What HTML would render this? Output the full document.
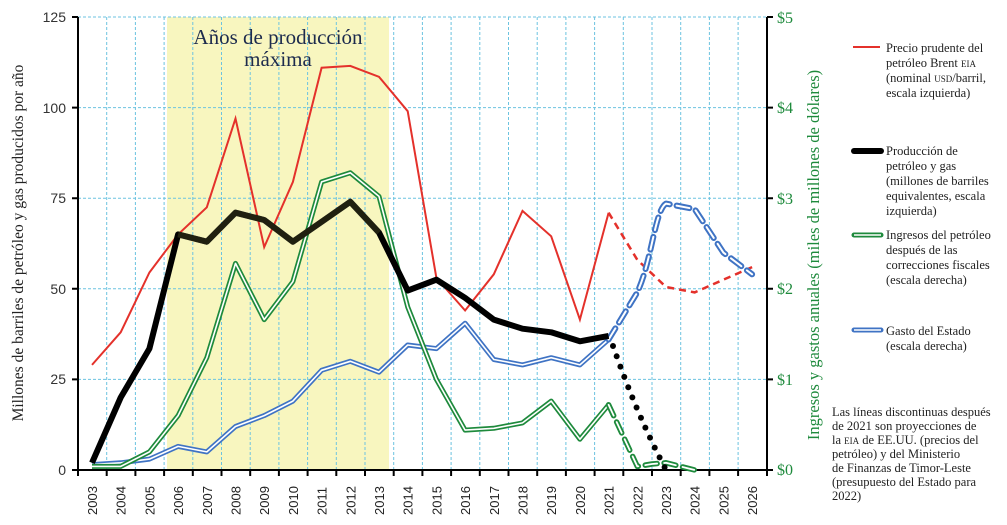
<!DOCTYPE html>
<html><head><meta charset="utf-8"><style>
body{margin:0;background:#fff;}
svg text{font-family:"Liberation Serif",serif;}
svg text.s{font-family:"Liberation Sans",sans-serif;}
</style></head><body>
<svg width="1007" height="520" viewBox="0 0 1007 520" xmlns="http://www.w3.org/2000/svg">
<rect x="167" y="17" width="222" height="453" fill="#f8f6bf"/>
<g stroke="#6cc3e0" stroke-width="1" stroke-dasharray="3,2" fill="none">
<path d="M78 17H767M78 107.6H767M78 198.2H767M78 288.8H767M78 379.4H767"/>
<path d="M106.7 17V470M135.4 17V470M164.1 17V470M192.8 17V470M221.5 17V470M250.2 17V470M278.9 17V470M307.6 17V470M336.3 17V470M365 17V470M393.7 17V470M422.4 17V470M451.1 17V470M479.8 17V470M508.5 17V470M537.2 17V470M565.9 17V470M594.6 17V470M623.3 17V470M652 17V470M680.7 17V470M709.4 17V470M738.1 17V470"/>
</g>
<text x="278" y="44" font-size="21" fill="#1d2b4d" text-anchor="middle">Años de producción</text>
<text x="278" y="66" font-size="21" fill="#1d2b4d" text-anchor="middle">máxima</text>
<g stroke="#000" stroke-width="2" fill="none">
<path d="M78 17V470H767V17"/>
<path d="M72 17H78M72 107.6H78M72 198.2H78M72 288.8H78M72 379.4H78M72 470H78"/>
<path d="M767 17H773M767 107.6H773M767 198.2H773M767 288.8H773M767 379.4H773M767 470H773"/>
<path d="M78 470v6M106.7 470v6M135.4 470v6M164.1 470v6M192.8 470v6M221.5 470v6M250.2 470v6M278.9 470v6M307.6 470v6M336.3 470v6M365 470v6M393.7 470v6M422.4 470v6M451.1 470v6M479.8 470v6M508.5 470v6M537.2 470v6M565.9 470v6M594.6 470v6M623.3 470v6M652 470v6M680.7 470v6M709.4 470v6M738.1 470v6M767 470v6"/>
</g>
<g font-size="14" fill="#333" text-anchor="end">
<text class="s" x="66" y="22">125</text><text class="s" x="66" y="113">100</text><text class="s" x="66" y="203">75</text><text class="s" x="66" y="294">50</text><text class="s" x="66" y="384">25</text><text class="s" x="66" y="475">0</text>
</g>
<g font-size="16" fill="#1e8a3c">
<text x="777" y="23">$5</text><text x="777" y="113">$4</text><text x="777" y="204">$3</text><text x="777" y="294">$2</text><text x="777" y="385">$1</text><text x="777" y="475">$0</text>
</g>
<text transform="translate(23,243) rotate(-90)" font-size="15.5" fill="#222" text-anchor="middle">Millones de barriles de petróleo y gas producidos por año</text>
<text transform="translate(819,255) rotate(-90)" font-size="16.5" fill="#1e8a3c" text-anchor="middle">Ingresos y gastos anuales (miles de millones de dólares)</text>
<g font-size="13" fill="#222">
<text class="s" transform="translate(97,515) rotate(-90)">2003</text>
<text class="s" transform="translate(125.7,515) rotate(-90)">2004</text>
<text class="s" transform="translate(154.4,515) rotate(-90)">2005</text>
<text class="s" transform="translate(183.1,515) rotate(-90)">2006</text>
<text class="s" transform="translate(211.8,515) rotate(-90)">2007</text>
<text class="s" transform="translate(240.5,515) rotate(-90)">2008</text>
<text class="s" transform="translate(269.2,515) rotate(-90)">2009</text>
<text class="s" transform="translate(297.9,515) rotate(-90)">2010</text>
<text class="s" transform="translate(326.6,515) rotate(-90)">2011</text>
<text class="s" transform="translate(355.3,515) rotate(-90)">2012</text>
<text class="s" transform="translate(384,515) rotate(-90)">2013</text>
<text class="s" transform="translate(412.7,515) rotate(-90)">2014</text>
<text class="s" transform="translate(441.4,515) rotate(-90)">2015</text>
<text class="s" transform="translate(470.1,515) rotate(-90)">2016</text>
<text class="s" transform="translate(498.8,515) rotate(-90)">2017</text>
<text class="s" transform="translate(527.5,515) rotate(-90)">2018</text>
<text class="s" transform="translate(556.2,515) rotate(-90)">2019</text>
<text class="s" transform="translate(584.9,515) rotate(-90)">2020</text>
<text class="s" transform="translate(613.6,515) rotate(-90)">2021</text>
<text class="s" transform="translate(642.3,515) rotate(-90)">2022</text>
<text class="s" transform="translate(671,515) rotate(-90)">2023</text>
<text class="s" transform="translate(699.7,515) rotate(-90)">2024</text>
<text class="s" transform="translate(728.4,515) rotate(-90)">2025</text>
<text class="s" transform="translate(757.1,515) rotate(-90)">2026</text>
</g>
<polyline fill="none" stroke="#e4312b" stroke-width="2" points="92,364.9 120.7,332.3 149.4,272.5 178.1,234.4 206.8,207.3 235.5,118.5 264.2,247.1 292.9,181.9 321.6,67.7 350.3,65.9 379,76.8 407.7,111.2 436.4,277.9 465.1,310.5 493.8,274.3 522.5,210.9 551.2,236.3 579.9,319.6 608.6,212.7"/>
<polyline fill="none" stroke="#e4312b" stroke-width="2.5" stroke-dasharray="7,5" points="608.6,212.7 637.3,259.8 666,287 694.7,292.4 723.4,279.7 752.1,267.1"/>
<g fill="none" stroke-linejoin="round">
<polyline stroke="#3f73c4" stroke-width="5" points="92,464.6 120.7,462.8 149.4,459.1 178.1,446.4 206.8,451.9 235.5,426.5 264.2,415.6 292.9,401.1 321.6,370.3 350.3,361.3 379,372.2 407.7,345 436.4,348.6 465.1,323.2 493.8,359.5 522.5,364.9 551.2,357.7 579.9,364.9 608.6,339.5"/>
<polyline stroke="#fff" stroke-width="1.6" points="92,464.6 120.7,462.8 149.4,459.1 178.1,446.4 206.8,451.9 235.5,426.5 264.2,415.6 292.9,401.1 321.6,370.3 350.3,361.3 379,372.2 407.7,345 436.4,348.6 465.1,323.2 493.8,359.5 522.5,364.9 551.2,357.7 579.9,364.9 608.6,339.5"/>
<path stroke="#3f73c4" stroke-width="6" stroke-dasharray="13,7" stroke-linecap="round" d="M608.6,339.5 L637.3,292.4 C652,260 655,210 666,203.6 L694.7,209.1 L723.4,252.6 L752.1,274.3"/>
<path stroke="#fff" stroke-width="2" stroke-dasharray="13,7" stroke-linecap="round" d="M608.6,339.5 L637.3,292.4 C652,260 655,210 666,203.6 L694.7,209.1 L723.4,252.6 L752.1,274.3"/>
</g>
<g fill="none" stroke-linejoin="round">
<polyline stroke="#1e8a3c" stroke-width="5" points="92,466.4 120.7,466.4 149.4,451.9 178.1,415.6 206.8,357.7 235.5,263.4 264.2,319.6 292.9,281.6 321.6,181.9 350.3,172.8 379,196.4 407.7,306.9 436.4,379.4 465.1,430.1 493.8,428.3 522.5,422.9 551.2,401.1 579.9,439.2 608.6,404.8"/>
<polyline stroke="#fff" stroke-width="1.6" points="92,466.4 120.7,466.4 149.4,451.9 178.1,415.6 206.8,357.7 235.5,263.4 264.2,319.6 292.9,281.6 321.6,181.9 350.3,172.8 379,196.4 407.7,306.9 436.4,379.4 465.1,430.1 493.8,428.3 522.5,422.9 551.2,401.1 579.9,439.2 608.6,404.8"/>
<polyline stroke="#1e8a3c" stroke-width="5.5" stroke-dasharray="12,7" stroke-linecap="round" points="608.6,404.8 637.3,466.4 652,464 666,462.8 694.7,470"/>
<polyline stroke="#fff" stroke-width="1.8" stroke-dasharray="12,7" stroke-linecap="round" points="608.6,404.8 637.3,466.4 652,464 666,462.8 694.7,470"/>
</g>
<polyline fill="none" stroke="#000" stroke-width="6" stroke-linejoin="round" points="92,462.8 120.7,397.5 149.4,348.6 178.1,234.4 206.8,241.7 235.5,212.7 264.2,220 292.9,241.7 321.6,221.8 350.3,201.8 379,232.6 407.7,290.6 436.4,279.7 465.1,297.9 493.8,319.6 522.5,328.7 551.2,332.3 579.9,341.3 608.6,335.9"/>
<polyline fill="none" stroke="#3a3a1e" stroke-width="6" stroke-linejoin="round" opacity="0.55" points="178.1,234.4 206.8,241.7 235.5,212.7 264.2,220 292.9,241.7 321.6,221.8 350.3,201.8 379,232.6"/>
<path fill="none" stroke="#000" stroke-width="6" stroke-linecap="round" stroke-dasharray="0,11" d="M613,346 C625,380 640,420 666,470"/>
<line x1="853" y1="47" x2="880" y2="47" stroke="#e4312b" stroke-width="2"/>
<line x1="854" y1="151" x2="881" y2="151" stroke="#000" stroke-width="6" stroke-linecap="round"/>
<line x1="854" y1="235" x2="881" y2="235" stroke="#1e8a3c" stroke-width="5" stroke-linecap="round"/>
<line x1="854" y1="235" x2="881" y2="235" stroke="#fff" stroke-width="1.6"/>
<line x1="854" y1="330" x2="881" y2="330" stroke="#3f73c4" stroke-width="5" stroke-linecap="round"/>
<line x1="854" y1="330" x2="881" y2="330" stroke="#fff" stroke-width="1.6"/>
<g font-size="12.5" fill="#222">
<text x="886" y="52">Precio prudente del</text>
<text x="886" y="67">petróleo Brent <tspan font-size="9">EIA</tspan></text>
<text x="886" y="82">(nominal <tspan font-size="9">USD</tspan>/barril,</text>
<text x="886" y="97">escala izquierda)</text>
<text x="886" y="155">Producción de</text>
<text x="886" y="170">petróleo y gas</text>
<text x="886" y="185">(millones de barriles</text>
<text x="886" y="200">equivalentes, escala</text>
<text x="886" y="215">izquierda)</text>
<text x="886" y="239">Ingresos del petróleo</text>
<text x="886" y="254">después de las</text>
<text x="886" y="269">correcciones fiscales</text>
<text x="886" y="284">(escala derecha)</text>
<text x="886" y="335">Gasto del Estado</text>
<text x="886" y="350">(escala derecha)</text>
<text x="832" y="416">Las líneas discontinuas después</text>
<text x="832" y="430">de 2021 son proyecciones de</text>
<text x="832" y="444">la <tspan font-size="9">EIA</tspan> de EE.UU. (precios del</text>
<text x="832" y="458">petróleo) y del Ministerio</text>
<text x="832" y="472">de Finanzas de Timor-Leste</text>
<text x="832" y="486">(presupuesto del Estado para</text>
<text x="832" y="500">2022)</text>
</g>
</svg>
</body></html>
